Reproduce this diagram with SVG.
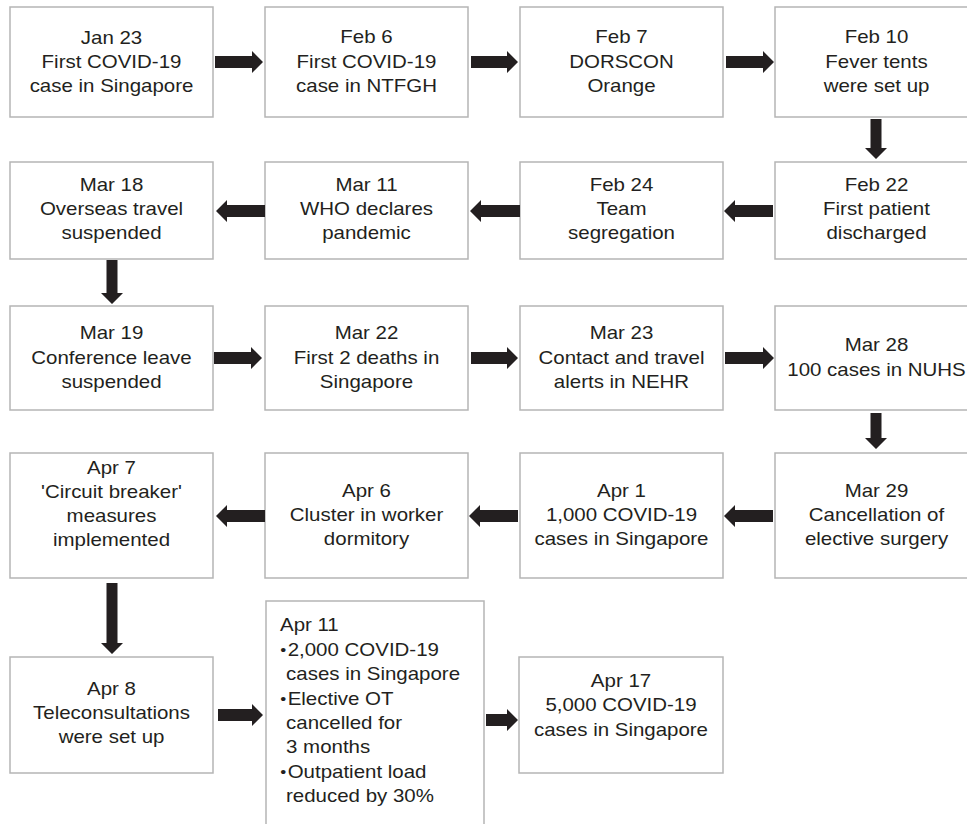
<svg xmlns="http://www.w3.org/2000/svg" width="967" height="824" viewBox="0 0 967 824">
<style>
.box{fill:#ffffff;stroke:#b5b5b5;stroke-width:1.5}
.t text{font-family:"Liberation Sans",Arial,Helvetica,sans-serif;font-size:18.6px;fill:#231f20;text-anchor:middle}
.tl text{font-family:"Liberation Sans",Arial,Helvetica,sans-serif;font-size:18.6px;fill:#231f20;text-anchor:start}
.tl text.b{font-size:15.5px}
.arr{fill:#231f20;stroke:none}
</style>
<rect x="0" y="0" width="967" height="824" fill="#ffffff"/>

<g id="n-jan23"><rect class="box" x="10" y="7" width="203" height="110"/>
<g class="t" transform="translate(111.5 0) scale(1.1 1)"><text x="0" y="44">Jan 23</text><text x="0" y="68">First COVID-19</text><text x="0" y="92">case in Singapore</text></g></g>
<g id="n-feb6"><rect class="box" x="265" y="7" width="203" height="110"/>
<g class="t" transform="translate(366.5 0) scale(1.1 1)"><text x="0" y="43.5">Feb 6</text><text x="0" y="68">First COVID-19</text><text x="0" y="92">case in NTFGH</text></g></g>
<g id="n-feb7"><rect class="box" x="520" y="7" width="203" height="110"/>
<g class="t" transform="translate(621.5 0) scale(1.1 1)"><text x="0" y="43.5">Feb 7</text><text x="0" y="68">DORSCON</text><text x="0" y="92">Orange</text></g></g>
<g id="n-feb10"><rect class="box" x="775" y="7" width="203" height="110"/>
<g class="t" transform="translate(876.5 0) scale(1.1 1)"><text x="0" y="43.5">Feb 10</text><text x="0" y="68">Fever tents</text><text x="0" y="92">were set up</text></g></g>

<g id="n-mar18"><rect class="box" x="10" y="162" width="203" height="97"/>
<g class="t" transform="translate(111.5 0) scale(1.1 1)"><text x="0" y="191">Mar 18</text><text x="0" y="215">Overseas travel</text><text x="0" y="239">suspended</text></g></g>
<g id="n-mar11"><rect class="box" x="265" y="162" width="203" height="97"/>
<g class="t" transform="translate(366.5 0) scale(1.1 1)"><text x="0" y="191">Mar 11</text><text x="0" y="215">WHO declares</text><text x="0" y="239">pandemic</text></g></g>
<g id="n-feb24"><rect class="box" x="520" y="162" width="203" height="97"/>
<g class="t" transform="translate(621.5 0) scale(1.1 1)"><text x="0" y="191">Feb 24</text><text x="0" y="215">Team</text><text x="0" y="239">segregation</text></g></g>
<g id="n-feb22"><rect class="box" x="775" y="162" width="203" height="97"/>
<g class="t" transform="translate(876.5 0) scale(1.1 1)"><text x="0" y="191">Feb 22</text><text x="0" y="215">First patient</text><text x="0" y="239">discharged</text></g></g>

<g id="n-mar19"><rect class="box" x="10" y="306" width="203" height="104"/>
<g class="t" transform="translate(111.5 0) scale(1.1 1)"><text x="0" y="339">Mar 19</text><text x="0" y="364">Conference leave</text><text x="0" y="388">suspended</text></g></g>
<g id="n-mar22"><rect class="box" x="265" y="306" width="203" height="104"/>
<g class="t" transform="translate(366.5 0) scale(1.1 1)"><text x="0" y="339">Mar 22</text><text x="0" y="364">First 2 deaths in</text><text x="0" y="388">Singapore</text></g></g>
<g id="n-mar23"><rect class="box" x="520" y="306" width="203" height="104"/>
<g class="t" transform="translate(621.5 0) scale(1.1 1)"><text x="0" y="339">Mar 23</text><text x="0" y="364">Contact and travel</text><text x="0" y="388">alerts in NEHR</text></g></g>
<g id="n-mar28"><rect class="box" x="775" y="306" width="203" height="104"/>
<g class="t" transform="translate(876.5 0) scale(1.1 1)"><text x="0" y="351">Mar 28</text><text x="0" y="376">100 cases in NUHS</text></g></g>

<g id="n-apr7"><rect class="box" x="10" y="453" width="203" height="125"/>
<g class="t" transform="translate(111.5 0) scale(1.1 1)"><text x="0" y="474">Apr 7</text><text x="0" y="498">'Circuit breaker'</text><text x="0" y="522">measures</text><text x="0" y="546">implemented</text></g></g>
<g id="n-apr6"><rect class="box" x="265" y="453" width="203" height="125"/>
<g class="t" transform="translate(366.5 0) scale(1.1 1)"><text x="0" y="497">Apr 6</text><text x="0" y="521">Cluster in worker</text><text x="0" y="545">dormitory</text></g></g>
<g id="n-apr1"><rect class="box" x="520" y="453" width="203" height="125"/>
<g class="t" transform="translate(621.5 0) scale(1.1 1)"><text x="0" y="497">Apr 1</text><text x="0" y="521">1,000 COVID-19</text><text x="0" y="545">cases in Singapore</text></g></g>
<g id="n-mar29"><rect class="box" x="775" y="453" width="203" height="125"/>
<g class="t" transform="translate(876.5 0) scale(1.1 1)"><text x="0" y="497">Mar 29</text><text x="0" y="521">Cancellation of</text><text x="0" y="545">elective surgery</text></g></g>

<g id="n-apr8"><rect class="box" x="10" y="657" width="203" height="116"/>
<g class="t" transform="translate(111.5 0) scale(1.1 1)"><text x="0" y="695">Apr 8</text><text x="0" y="719">Teleconsultations</text><text x="0" y="743">were set up</text></g></g>
<g id="n-apr11"><rect class="box" x="266" y="601" width="218" height="240"/>
<g class="tl" transform="translate(280 0) scale(1.1 1)"><text x="0" y="631">Apr 11</text>
<text class="b" x="0.3" y="655">•</text><text x="7" y="656">2,000 COVID-19</text>
<text x="5.5" y="680.5">cases in Singapore</text>
<text class="b" x="0.3" y="704">•</text><text x="7" y="705">Elective OT</text>
<text x="5.5" y="729">cancelled for</text>
<text x="5.5" y="753.5">3 months</text>
<text class="b" x="0.3" y="777">•</text><text x="7" y="778">Outpatient load</text>
<text x="5.5" y="802.5">reduced by 30%</text></g></g>
<g id="n-apr17"><rect class="box" x="519" y="657" width="204" height="116"/>
<g class="t" transform="translate(621 0) scale(1.1 1)"><text x="0" y="687">Apr 17</text><text x="0" y="711.5">5,000 COVID-19</text><text x="0" y="736">cases in Singapore</text></g></g>

<g id="connectors" class="arr">
<path d="M215 56 H252 V51 L263 62 L252 73 V68 H215 Z"/>
<path d="M471 56 H507 V51 L518 62 L507 73 V68 H471 Z"/>
<path d="M726 56 H763 V51 L774 62 L763 73 V68 H726 Z"/>
<path d="M870.5 119 V148 H865 L876 159 L887 148 H881.5 V119 Z"/>
<path d="M773 205 H735 V200 L724 211 L735 222 V217 H773 Z"/>
<path d="M520 205 H481 V200 L470 211 L481 222 V217 H520 Z"/>
<path d="M265 205 H227 V200 L216 211 L227 222 V217 H265 Z"/>
<path d="M106.5 260 V293 H101 L112 304 L123 293 H117.5 V260 Z"/>
<path d="M214 352 H251 V347 L262 358 L251 369 V364 H214 Z"/>
<path d="M471 352 H507 V347 L518 358 L507 369 V364 H471 Z"/>
<path d="M725 352 H763 V347 L774 358 L763 369 V364 H725 Z"/>
<path d="M870.5 413 V438 H865 L876 449 L887 438 H881.5 V413 Z"/>
<path d="M773 510 H735 V505 L724 516 L735 527 V522 H773 Z"/>
<path d="M518 510 H480 V505 L469 516 L480 527 V522 H518 Z"/>
<path d="M265 510 H227 V505 L216 516 L227 527 V522 H265 Z"/>
<path d="M106.5 583 V643 H101 L112 654 L123 643 H117.5 V583 Z"/>
<path d="M218 709 H252 V704 L263 715 L252 726 V721 H218 Z"/>
<path d="M486 714 H507 V709 L518 720 L507 731 V726 H486 Z"/>
</g>
</svg>
